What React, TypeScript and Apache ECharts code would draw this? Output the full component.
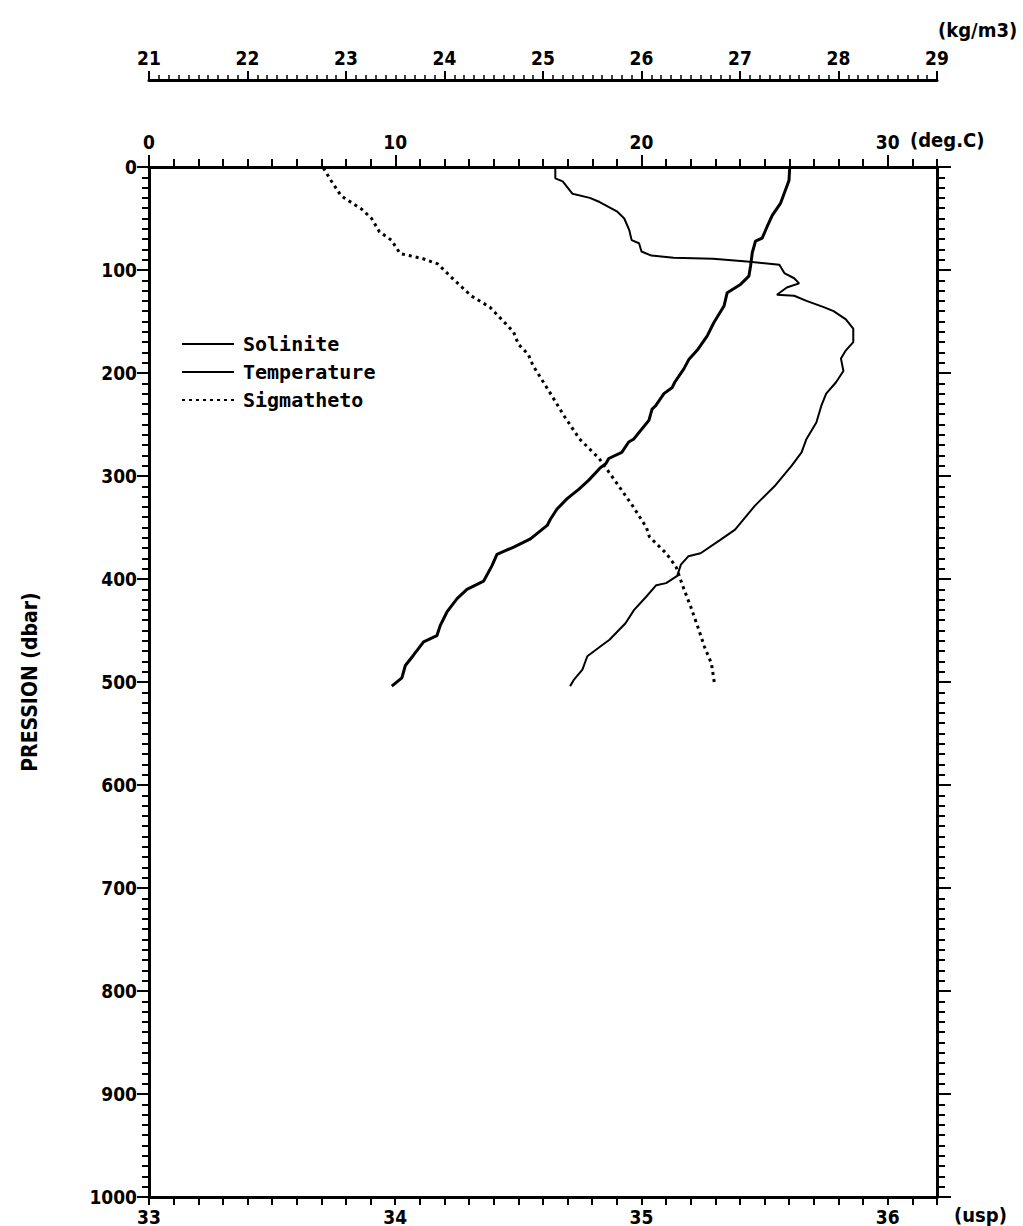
import React, { useEffect, useRef } from "react";
import * as echarts from "echarts";

// ---- Data (pressure in dbar) ----
const salPressure = [0, 11, 14, 26, 30, 34, 43, 50, 61, 71, 74, 82, 86, 88, 89, 92, 95, 103, 108, 113, 117, 124, 125, 130, 136, 140, 148, 157, 170, 178, 186, 198, 209, 220, 232, 248, 264, 277, 290, 310, 329, 352, 362, 375, 378, 386, 397, 404, 406, 417, 430, 443, 459, 466, 475, 488, 498, 504];
const salinity = [34.65, 34.65, 34.68, 34.72, 34.79, 34.83, 34.90, 34.93, 34.95, 34.96, 34.99, 35.00, 35.04, 35.13, 35.29, 35.44, 35.56, 35.58, 35.62, 35.64, 35.59, 35.55, 35.62, 35.67, 35.74, 35.78, 35.83, 35.86, 35.86, 35.83, 35.81, 35.82, 35.79, 35.75, 35.73, 35.71, 35.67, 35.65, 35.61, 35.54, 35.46, 35.38, 35.32, 35.24, 35.19, 35.16, 35.145, 35.10, 35.06, 35.02, 34.97, 34.935, 34.87, 34.83, 34.78, 34.76, 34.725, 34.71];

const tempPressure = [0, 13, 22, 35, 47, 58, 69, 72, 83, 96, 106, 114, 122, 135, 151, 164, 178, 187, 196, 209, 214, 220, 232, 235, 246, 258, 264, 267, 277, 283, 288, 292, 304, 313, 322, 332, 342, 348, 361, 369, 376, 387, 402, 410, 419, 432, 445, 455, 461, 474, 484, 496, 504];
const temperature = [26.02, 25.99, 25.85, 25.65, 25.31, 25.1, 24.9, 24.63, 24.5, 24.43, 24.36, 24.02, 23.48, 23.35, 22.94, 22.67, 22.26, 21.92, 21.72, 21.35, 21.25, 20.91, 20.57, 20.43, 20.3, 19.89, 19.69, 19.48, 19.2, 18.67, 18.55, 18.33, 17.86, 17.45, 16.98, 16.57, 16.3, 16.17, 15.49, 14.81, 14.13, 13.93, 13.59, 12.91, 12.51, 12.1, 11.83, 11.69, 11.15, 10.74, 10.41, 10.27, 9.86];

const sigPressure = [1, 12, 28, 41, 50, 63, 71, 84, 89, 94, 109, 125, 136, 146, 160, 172, 182, 193, 219, 241, 264, 283, 303, 329, 350, 359, 375, 388, 407, 427, 446, 466, 482, 501];
const sigmaTheta = [22.77, 22.84, 22.95, 23.16, 23.26, 23.34, 23.46, 23.55, 23.78, 23.93, 24.09, 24.27, 24.46, 24.56, 24.70, 24.75, 24.85, 24.90, 25.07, 25.21, 25.37, 25.57, 25.72, 25.91, 26.05, 26.08, 26.25, 26.35, 26.42, 26.50, 26.57, 26.64, 26.71, 26.74];

// ---- Tick labels ----
const tempLabels = [0, 10, 20, 30];
const salLabels = [33, 34, 35, 36];
const sigLabels = [21, 22, 23, 24, 25, 26, 27, 28, 29];
const pressureLabels = [0, 100, 200, 300, 400, 500, 600, 700, 800, 900, 1000];

const FONT = '"Liberation Sans Narrow", "DejaVu Sans Condensed", "Liberation Sans", sans-serif';
const LEGEND_FONT = '"DejaVu Sans Mono", "Liberation Mono", monospace';
const BLACK = "#000";

const inList = (list: number[]) => (v: number) =>
  list.some((l) => Math.abs(l - v) < 1e-6) ? String(Math.round(v)) : "";

export default function App() {
  const ref = useRef<HTMLDivElement>(null);

  useEffect(() => {
    if (!ref.current) return;
    const chart = echarts.init(ref.current, null, { renderer: "svg" });

    const labelStyle = {
      color: BLACK,
      fontFamily: FONT,
      fontWeight: "bold" as const,
      fontSize: 19,
    };

    const option: any = {
      animation: false,
      backgroundColor: "#fff",
      grid: { left: 149, top: 167, width: 788, height: 1031, containLabel: false },
      legend: {
        orient: "vertical",
        left: 176,
        top: 329,
        itemWidth: 52,
        itemHeight: 14,
        itemGap: 8,
        itemStyle: { opacity: 0 },
        textStyle: { color: BLACK, fontFamily: LEGEND_FONT, fontWeight: "bold", fontSize: 20, padding: [0, 0, 0, 4] },
        data: ["Solinite", "Temperature", "Sigmatheto"],
      },
      xAxis: [
        {
          type: "value",
          position: "top",
          min: 0,
          max: 32,
          interval: 1,
          axisLine: { show: true, onZero: false, lineStyle: { color: BLACK, width: 3 } },
          axisTick: { show: true, inside: false, length: 8, lineStyle: { color: BLACK, width: 2 } },
          axisLabel: { ...labelStyle, margin: 16, formatter: inList(tempLabels) },
          splitLine: { show: false },
        },
        {
          type: "value",
          position: "top",
          min: 0,
          max: 32,
          axisLine: { show: false, onZero: false },
          axisTick: { show: true, inside: false, length: 12, customValues: tempLabels, lineStyle: { color: BLACK, width: 2 } },
          axisLabel: { show: false },
          splitLine: { show: false },
        },
        {
          type: "value",
          position: "bottom",
          min: 33,
          max: 36.2,
          interval: 0.1,
          axisLine: { show: true, onZero: false, lineStyle: { color: BLACK, width: 3 } },
          axisTick: { show: true, inside: false, length: 8, lineStyle: { color: BLACK, width: 2 } },
          axisLabel: { ...labelStyle, margin: 10, formatter: inList(salLabels) },
          splitLine: { show: false },
        },
        {
          type: "value",
          position: "top",
          offset: 87,
          min: 21,
          max: 29,
          interval: 0.1,
          axisLine: { show: true, onZero: false, lineStyle: { color: BLACK, width: 3 } },
          axisTick: { show: true, inside: false, length: 5, lineStyle: { color: BLACK, width: 1.5 } },
          axisLabel: { ...labelStyle, margin: 13, formatter: inList(sigLabels) },
          splitLine: { show: false },
        },
        {
          type: "value",
          position: "top",
          offset: 87,
          min: 21,
          max: 29,
          axisLine: { show: false, onZero: false },
          axisTick: { show: true, inside: false, length: 9, customValues: sigLabels, lineStyle: { color: BLACK, width: 2 } },
          axisLabel: { show: false },
          splitLine: { show: false },
        },
      ],
      yAxis: [
        {
          type: "value",
          position: "left",
          inverse: true,
          min: 0,
          max: 1000,
          interval: 100,
          axisLine: { show: true, onZero: false, lineStyle: { color: BLACK, width: 3 } },
          axisTick: { show: true, inside: false, length: 12, lineStyle: { color: BLACK, width: 2 } },
          minorTick: { show: true, splitNumber: 10, length: 7, lineStyle: { color: BLACK, width: 2 } },
          axisLabel: { ...labelStyle, margin: 12, formatter: inList(pressureLabels) },
          splitLine: { show: false },
        },
        {
          type: "value",
          position: "right",
          inverse: true,
          min: 0,
          max: 1000,
          interval: 100,
          axisLine: { show: true, onZero: false, lineStyle: { color: BLACK, width: 3 } },
          axisTick: { show: true, inside: false, length: 14, lineStyle: { color: BLACK, width: 2 } },
          minorTick: { show: true, splitNumber: 10, length: 8, lineStyle: { color: BLACK, width: 2 } },
          axisLabel: { show: false },
          splitLine: { show: false },
        },
      ],
      series: [
        {
          name: "Solinite",
          type: "line",
          xAxisIndex: 2,
          yAxisIndex: 0,
          symbol: "none",
          lineStyle: { color: BLACK, width: 2 },
          itemStyle: { color: BLACK },
          data: salPressure.map((p, i) => [salinity[i], p]),
        },
        {
          name: "Temperature",
          type: "line",
          xAxisIndex: 0,
          yAxisIndex: 0,
          symbol: "none",
          lineStyle: { color: BLACK, width: 3 },
          itemStyle: { color: BLACK },
          data: tempPressure.map((p, i) => [temperature[i], p]),
        },
        {
          name: "Sigmatheto",
          type: "line",
          xAxisIndex: 3,
          yAxisIndex: 0,
          symbol: "none",
          lineStyle: { color: BLACK, width: 3, type: [3, 4] },
          itemStyle: { color: BLACK },
          data: sigPressure.map((p, i) => [sigmaTheta[i], p]),
        },
      ],
      graphic: [
        {
          type: "text",
          left: 938,
          top: 20,
          style: { text: "(kg/m3)", font: `bold 20px ${FONT}`, fill: BLACK },
        },
        {
          type: "text",
          left: 910,
          top: 130,
          style: { text: "(deg.C)", font: `bold 20px ${FONT}`, fill: BLACK },
        },
        {
          type: "text",
          left: 954,
          top: 1205,
          style: { text: "(usp)", font: `bold 20px ${FONT}`, fill: BLACK },
        },
        {
          type: "text",
          x: 30,
          y: 682,
          rotation: Math.PI / 2,
          style: {
            text: "PRESSION (dbar)",
            font: `bold 21px ${FONT}`,
            fill: BLACK,
            align: "center",
            verticalAlign: "middle",
          },
        },
      ],
    };

    chart.setOption(option);
    return () => chart.dispose();
  }, []);

  return (
    <div
      ref={ref}
      style={{ position: "absolute", left: 0, top: 0, width: 1023, height: 1226, background: "#fff" }}
    />
  );
}
